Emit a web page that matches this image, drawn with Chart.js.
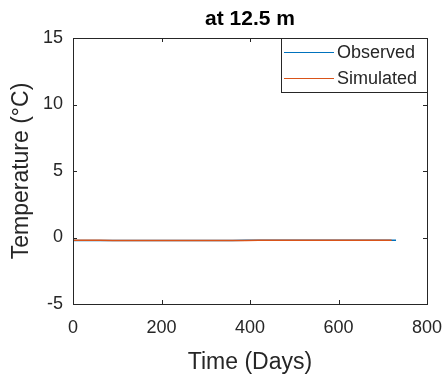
<!DOCTYPE html>
<html><head><meta charset="utf-8">
<script src="https://cdn.jsdelivr.net/npm/chart.js@4/dist/chart.umd.min.js"></script>
<style>html,body{margin:0;padding:0;background:#fff}#w{width:446px;height:377px}</style>
</head><body><div id="w"><canvas id="c" width="446" height="377"></canvas></div>
<script>
const chartTitle = "at 12.5 m";
const xLabel = "Time (Days)";
const yLabel = "Temperature (°C)";
const xTicks = [0, 200, 400, 600, 800];
const yTicks = [-5, 0, 5, 10, 15];
const days = [0, 30, 60, 90, 120, 150, 180, 210, 240, 270, 300, 330, 360, 390, 420, 450, 480, 510, 540, 570, 600, 630, 660, 690, 720, 730];
const observed = [-0.22, -0.22, -0.22, -0.22, -0.23, -0.23, -0.23, -0.23, -0.22, -0.22, -0.22, -0.22, -0.22, -0.21, -0.21, -0.21, -0.21, -0.21, -0.21, -0.2, -0.2, -0.2, -0.2, -0.2, -0.2, -0.2];
const simulated = [-0.2, -0.21, -0.21, -0.22, -0.22, -0.22, -0.22, -0.22, -0.22, -0.22, -0.22, -0.22, -0.22, -0.22, -0.21, -0.21, -0.21, -0.21, -0.21, -0.21, -0.21, -0.21, -0.21, -0.21, -0.21, null];
const seriesNames = ["Observed", "Simulated"];
const seriesColors = ["#0072BD", "#D95319"];

const FONT = "'Liberation Sans', Arial, sans-serif";

const framePlugin = {
  id: 'frame',
  afterDraw(chart) {
    const {ctx, chartArea: a, scales} = chart;
    ctx.save();
    ctx.strokeStyle = '#262626';
    ctx.lineWidth = 1;
    ctx.strokeRect(Math.round(a.left) + 0.5, Math.round(a.top) + 0.5, Math.round(a.right - a.left), Math.round(a.bottom - a.top));
    const tl = 4;
    ctx.beginPath();
    xTicks.forEach(v => {
      const x = Math.round(scales.x.getPixelForValue(v)) + 0.5;
      ctx.moveTo(x, a.bottom); ctx.lineTo(x, a.bottom - tl);
      ctx.moveTo(x, a.top); ctx.lineTo(x, a.top + tl);
    });
    yTicks.forEach(v => {
      const y = Math.round(scales.y.getPixelForValue(v)) + 0.5;
      ctx.moveTo(a.left, y); ctx.lineTo(a.left + tl, y);
      ctx.moveTo(a.right, y); ctx.lineTo(a.right - tl, y);
    });
    ctx.stroke();
    // title
    ctx.fillStyle = '#000';
    ctx.font = 'bold 21px ' + FONT;
    ctx.textAlign = 'center';
    ctx.textBaseline = 'middle';
    ctx.fillText(chartTitle, (a.left + a.right) / 2, 19);
    // legend
    const lx = 281, ly = Math.round(a.top), lw = Math.round(a.right) - 281, lh = 54;
    ctx.fillStyle = '#fff';
    ctx.fillRect(lx, ly, lw, lh);
    ctx.strokeStyle = '#262626';
    ctx.strokeRect(lx + 0.5, ly + 0.5, lw, lh);
    ctx.font = '18px ' + FONT;
    ctx.textAlign = 'left';
    seriesNames.forEach((n, i) => {
      const y = ly + 14 + i * 26;
      ctx.strokeStyle = seriesColors[i];
      ctx.lineWidth = 1.2;
      ctx.beginPath(); ctx.moveTo(284, y + 0.5); ctx.lineTo(334, y + 0.5); ctx.stroke();
      ctx.fillStyle = '#262626';
      ctx.fillText(n, 337, y + 1);
    });
    ctx.restore();
  }
};

new Chart(document.getElementById('c'), {
  type: 'line',
  data: {
    datasets: [
      {label: seriesNames[0], data: days.map((d, i) => ({x: d, y: observed[i]})), borderColor: seriesColors[0], borderWidth: 1.5, pointRadius: 0, fill: false, order: 2},
      {label: seriesNames[1], data: days.map((d, i) => ({x: d, y: simulated[i]})), borderColor: seriesColors[1], borderWidth: 1.5, pointRadius: 0, fill: false, order: 1}
    ]
  },
  options: {
    responsive: false,
    animation: false,
    devicePixelRatio: 1,
    layout: {padding: {top: 38, right: 19, left: 0, bottom: 0}},
    plugins: {legend: {display: false}, title: {display: false}, tooltip: {enabled: false}},
    scales: {
      x: {
        type: 'linear', min: 0, max: 800,
        afterBuildTicks(s) { s.ticks = xTicks.map(v => ({value: v})); },
        afterFit(s) { s.height = 73; s.paddingLeft = 0; s.paddingRight = 0; },
        grid: {display: false, drawTicks: false},
        border: {display: false},
        ticks: {color: '#262626', font: {family: FONT, size: 18}, padding: 13, maxRotation: 0},
        title: {display: true, text: xLabel, color: '#262626', font: {family: FONT, size: 23}, padding: {top: 2, bottom: 1}}
      },
      y: {
        type: 'linear', min: -5, max: 15,
        afterBuildTicks(s) { s.ticks = yTicks.map(v => ({value: v})); },
        afterFit(s) { s.width = 73; s.paddingTop = 0; s.paddingBottom = 0; },
        grid: {display: false, drawTicks: false},
        border: {display: false},
        ticks: {color: '#262626', font: {family: FONT, size: 18}, padding: 10},
        title: {display: true, text: yLabel, color: '#262626', font: {family: FONT, size: 23}, padding: {top: 8, bottom: 2}}
      }
    }
  },
  plugins: [framePlugin]
});
</script></body></html>
